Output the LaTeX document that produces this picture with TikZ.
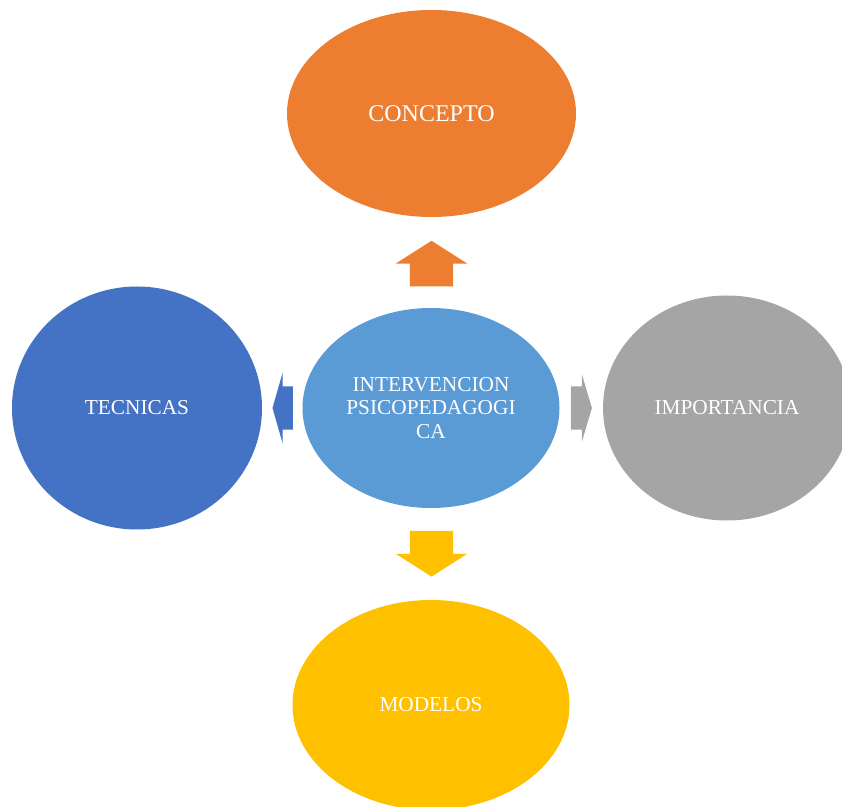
\documentclass[tikz,border=0pt]{standalone}
\usepackage{fontspec}
\setmainfont{Liberation Serif}
\usepackage{tikz}
\usetikzlibrary{shapes.geometric,shapes.arrows,positioning}
\definecolor{myOrange}{HTML}{ED7D31}
\definecolor{myBlue}{HTML}{5B9BD5}
\definecolor{myDarkBlue}{HTML}{4472C4}
\definecolor{myGray}{HTML}{A5A5A5}
\definecolor{myGold}{HTML}{FFC000}
\tikzset{
  x=1pt,y=1pt,
  font=\fontsize{21.3}{23.5}\selectfont,
  bubble/.style={shape=ellipse,text=white,align=center,inner sep=0},
  blockarrow/.style={shape=single arrow,draw=none,inner xsep=0,inner ysep=21.4pt,anchor=tail},
}
\begin{document}
\begin{tikzpicture}
      \useasboundingbox (0,0) rectangle (842,806);
      \clip (0,0) rectangle (842,806);
      % block arrows
      \node (upArr) [blockarrow,fill=myOrange,rotate=90,minimum height=45.7pt,single arrow head extend=14.2pt,single arrow tip angle=115] at (431.5,519.3) {};
      \node (downArr) [blockarrow,fill=myGold,rotate=-90,minimum height=45.7pt,single arrow head extend=14.2pt,single arrow tip angle=115] at (431.5,275.3) {};
      \node (leftArr) [blockarrow,fill=myDarkBlue,rotate=180,minimum height=20.3pt,single arrow head extend=13.5pt,single arrow tip angle=148] at (293,398) {};
      \node (rightArr) [blockarrow,fill=myGray,minimum height=21pt,single arrow head extend=12pt,single arrow tip angle=147] at (570.7,398) {};
      % bubbles
      \node (ctr) [bubble,fill=myBlue,minimum width=257pt,minimum height=200pt] at (431,398) {INTERVENCION\\PSICOPEDAGOGI\\CA};
      \node (concepto) [bubble,fill=myOrange,minimum width=289pt,minimum height=207pt,font=\fontsize{24}{28}\selectfont] at (431.5,692.5) {CONCEPTO};
      \node (tecnicas) [bubble,fill=myDarkBlue,minimum width=250pt,minimum height=243pt] at (137,398) {TECNICAS};
      \node (importancia) [bubble,fill=myGray,minimum width=248pt,minimum height=225pt] at (727,398) {IMPORTANCIA};
      \node (modelos) [bubble,fill=myGold,minimum width=277pt,minimum height=210pt] at (431,101) {MODELOS};
    \end{tikzpicture}
\end{document}
